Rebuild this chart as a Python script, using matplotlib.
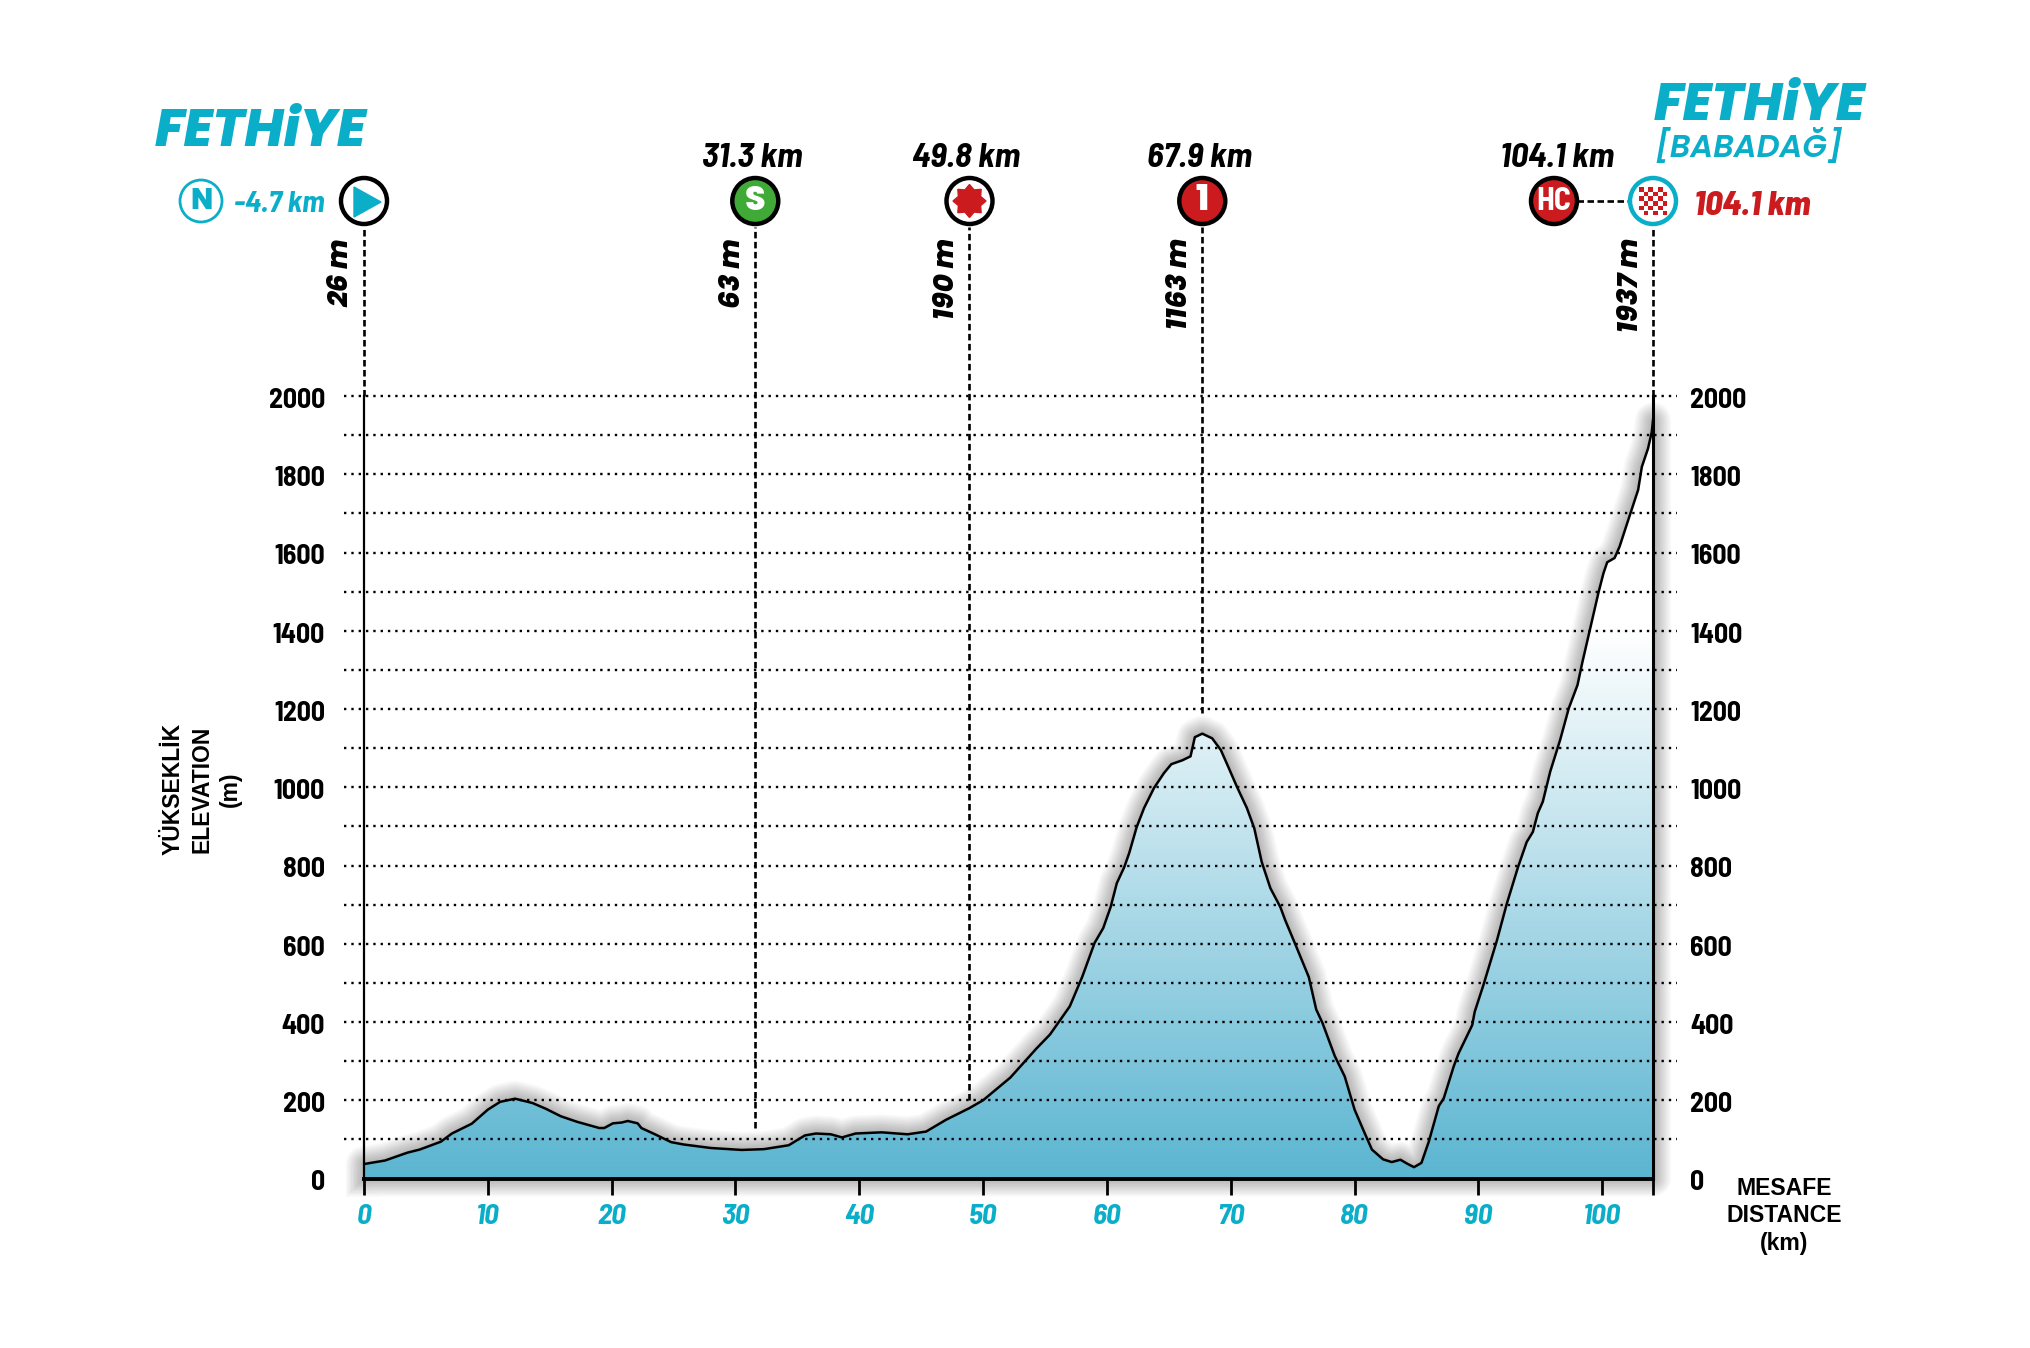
import matplotlib
matplotlib.use("Agg")
import matplotlib.pyplot as plt
import numpy as np
from matplotlib.colors import LinearSegmentedColormap
from matplotlib.patches import Circle, Polygon, Rectangle
from matplotlib.transforms import ScaledTranslation

# profile, km / metres
km = [0, 1.7, 3.5, 4.5, 6.2, 7.1, 8.7, 10, 11, 12.2, 13.6, 14.7, 15.9, 17.2, 19, 19.4,
      20.1, 20.8, 21.3, 22.1, 22.4, 23.5, 24.8, 25.8, 28, 30.5, 32.3, 34.3, 35.6, 36.5, 37.7,
      38.6, 39.7, 41.8, 43.9, 45.4, 47, 48.9, 50, 52.2, 54.3, 55.4, 57, 58, 59, 59.7, 60.3,
      60.8, 61.4, 61.8, 62.4, 63, 63.8, 64.6, 65.2, 66.1, 66.75, 67.1, 67.7, 68.5, 69.2, 69.8,
      70.5, 71.3, 71.9, 72.5, 73.2, 74, 74.4, 75.3, 76.3, 76.9, 77.4, 78.4, 79.2, 80, 80.8,
      81.4, 82.3, 83, 83.7, 84.3, 84.8, 85.4, 86, 86.8, 87.2, 88, 88.4, 89.5, 89.7, 90.4,
      91.5, 92.3, 93.2, 93.9, 94.4, 94.8, 95.2, 95.8, 96.6, 97.3, 98, 98.4, 99, 99.7, 100.1,
      100.4, 101, 101.4, 102.1, 102.9, 103.2, 103.7, 104, 104.1]
elev = [37, 46, 66, 74, 94, 115, 140, 176, 196, 204, 193, 178, 159, 145, 129, 129,
        141, 143, 147, 141, 129, 113, 93, 87, 78, 73, 75, 85, 110, 115, 113,
        105, 115, 118, 113, 120, 150, 180, 200, 258, 332, 368, 440, 515, 602, 640, 694,
        755, 796, 832, 898, 947, 998, 1036, 1059, 1069, 1079, 1128, 1137, 1125, 1095, 1052,
        1001, 947, 895, 809, 742, 694, 660, 592, 515, 432, 398, 313, 261, 176, 117,
        74, 49, 42, 48, 37, 29, 40, 95, 185, 205, 286, 320, 392, 426, 494,
        609, 703, 796, 860, 886, 934, 963, 1040, 1121, 1202, 1261, 1320, 1402, 1498, 1547,
        1575, 1586, 1615, 1683, 1760, 1819, 1866, 1908, 1938]

x_ticks = [0, 10, 20, 30, 40, 50, 60, 70, 80, 90, 100]
y_ticks = [0, 200, 400, 600, 800, 1000, 1200, 1400, 1600, 1800, 2000]
grid_levels = list(range(100, 2001, 100))

point_km = [0, 31.6, 48.9, 67.7, 104.1]
point_bottom = [2000, 129, 200, 1190, 2000]
point_dist = ["", "31.3 km", "49.8 km", "67.9 km", ""]
point_alt = ["26 m", "63 m", "190 m", "1163 m", "1937 m"]

W, H = 2031, 1348
X0, X1, Y0, Y1 = 364, 1653, 1178.5, 396
CYAN = "#0BAEC9"
RED = "#CC1B1F"
NARROW = ["Barlow Semi Condensed", "Roboto", "DejaVu Sans"]
HEAVY = ["Poppins", "Lato", "DejaVu Sans"]

fig = plt.figure(figsize=(W / 100, H / 100), dpi=100, facecolor="white")
ax = fig.add_axes([X0 / W, 1 - Y0 / H, (X1 - X0) / W, (Y0 - Y1) / H])
ax.set_facecolor("none")

# soft shadow round the whole profile
outline_x = [0] + km + [km[-1], 0]
outline_y = [0] + elev + [0, 0]
for lw in np.arange(26, 1, -2):
    ax.plot(outline_x, outline_y, color="black", lw=lw, alpha=0.022, clip_on=False,
            solid_joinstyle="round", zorder=1)

ax.fill(outline_x, outline_y, color="white", zorder=2)

# blue fade, white above 1400 m
cmap = LinearSegmentedColormap.from_list("fade", ["#5BB5D1", "#FFFFFF"])
grad = np.linspace(0, 1, 256).reshape(-1, 1)
im = ax.imshow(grad, cmap=cmap, origin="lower", extent=[0, km[-1], 0, 1400], aspect="auto", zorder=3)
im.set_clip_path(Polygon(np.column_stack([outline_x, outline_y]), transform=ax.transData))

ax.hlines(grid_levels, -1.6, km[-1] + 1.9, color="black", lw=1.7, linestyles=[(0, (1, 2.1))],
          clip_on=False, zorder=4)
ax.plot(km, elev, color="black", lw=1.8, zorder=6, solid_joinstyle="round")

ax.set_xlim(0, km[-1])
ax.set_ylim(0, 2000)

ax.spines["top"].set_visible(False)
ax.spines["left"].set_linewidth(1.6)
ax.spines["right"].set_linewidth(2.2)
ax.spines["bottom"].set_linewidth(2.8)
for s in ax.spines.values():
    s.set_zorder(7)

ax.set_xticks(x_ticks + [km[-1]], [str(t) for t in x_ticks] + [""])
ax.set_yticks(y_ticks, [str(t) for t in y_ticks])
ax.tick_params(axis="x", direction="out", length=11.5, width=2, pad=7, labelcolor=CYAN, labelsize=21)
ax.tick_params(axis="y", length=0, pad=28, labelleft=True, labelright=True, labelsize=20)
for t in ax.get_xticklabels():
    t.set_family(NARROW)
    t.set_weight("bold")
    t.set_style("italic")
for tick in ax.yaxis.get_major_ticks():
    for t, dx in ((tick.label1, 0), (tick.label2, -2)):
        t.set_family(NARROW)
        t.set_weight("bold")
        t.set_transform(t.get_transform() + ScaledTranslation(dx / 100, -2 / 100, fig.dpi_scale_trans))

# dashed climbs and points
ax.vlines(point_km, point_bottom, 2432, color="black", lw=1.9, linestyles=[(0, (2.46, 1.33))],
          clip_on=False, zorder=5)

over = fig.add_axes([0, 0, 1, 1])
over.set_xlim(0, W)
over.set_ylim(H, 0)
over.axis("off")
over.patch.set_alpha(0)


def px(k):
    return X0 + k * (X1 - X0) / km[-1]


def badge(x, face, edge="black", lw=3.2):
    over.add_patch(Circle((x, 201), 23, facecolor=face, edgecolor=edge, lw=lw, zorder=8))


for k, d, a in zip(point_km, point_dist, point_alt):
    if d:
        over.text(px(k) - 3, 158, d, ha="center", va="center", fontsize=25, family=NARROW,
                  weight="bold", style="italic")
    over.text(px(k) - 22, 238, a, rotation=90, ha="center", va="top", fontsize=20,
              family=HEAVY, weight=800, style="italic")

# start
badge(px(0), "white")
over.add_patch(Polygon([(354, 187), (354, 217), (381, 202)], color=CYAN, zorder=9))
over.add_patch(Circle((201, 201), 21, facecolor="white", edgecolor=CYAN, lw=2, zorder=8))
over.text(201, 202, "N", ha="center", va="center", color=CYAN, fontsize=21, family=HEAVY, weight=800, zorder=9)
over.text(325, 205, "-4.7 km", ha="right", va="center", color=CYAN, fontsize=22, family=NARROW,
          weight="bold", style="italic")

# sprint
badge(px(point_km[1]), "#3FAA35")
over.text(px(point_km[1]), 202, "S", ha="center", va="center", color="white", fontsize=24, family=HEAVY,
          weight=800, zorder=9)

# seal
badge(px(point_km[2]), "white")
n = 8
ang = np.linspace(0, 2 * np.pi, 2 * n, endpoint=False) - np.pi / 2
rad = np.where(np.arange(2 * n) % 2 == 0, 16.5, 12)
over.add_patch(Polygon(np.column_stack([px(point_km[2]) + rad * np.cos(ang), 201 + rad * np.sin(ang)]),
                       color=RED, zorder=9))

# first category
badge(px(point_km[3]), RED)
over.text(px(point_km[3]), 202, "1", ha="center", va="center", color="white", fontsize=25, family=HEAVY,
          weight=800, zorder=9)

# HC and finish
over.plot([1577, 1632], [201, 201], color="black", lw=1.9, ls=(0, (2.46, 1.33)), zorder=7)
badge(1554, RED)
over.text(1554, 202, "HC", ha="center", va="center", color="white", fontsize=23, family=NARROW, weight="bold", zorder=9)
badge(px(km[-1]), "white", edge=CYAN)
size = 4.7
for i in range(6):
    for j in range(6):
        if (i + j) % 2 == 0:
            over.add_patch(Rectangle((px(km[-1]) - 14 + i * size, 187 + j * size), size, size, color=RED, lw=0, zorder=9))
over.text(1694, 206, "104.1 km", ha="left", va="center", color=RED, fontsize=25, family=NARROW,
          weight=800, style="italic")
over.text(1557, 158, "104.1 km", ha="center", va="center", fontsize=25, family=NARROW, weight="bold", style="italic")

# places
over.text(155, 133, "FETHiYE", ha="left", va="center", color=CYAN, fontsize=38, family=HEAVY, weight=800, style="italic")
over.text(1654, 108, "FETHiYE", ha="left", va="center", color=CYAN, fontsize=38, family=HEAVY, weight=800, style="italic")
over.text(1654, 147, "[BABADAĞ]", ha="left", va="center", color=CYAN, fontsize=23, family=HEAVY, weight=600, style="italic")

# axis titles
over.text(202, 789, "YÜKSEKLİK\nELEVATION\n(m)", rotation=90, ha="center", va="center", multialignment="center",
          fontsize=16.5, family="Liberation Sans", weight="bold", linespacing=1.3)
over.text(1784, 1216, "MESAFE\nDISTANCE\n(km)", ha="center", va="center", multialignment="center",
          fontsize=16.6, family="Liberation Sans", weight="bold", linespacing=1.25)

fig.savefig("out.png", dpi=100, facecolor="white")
